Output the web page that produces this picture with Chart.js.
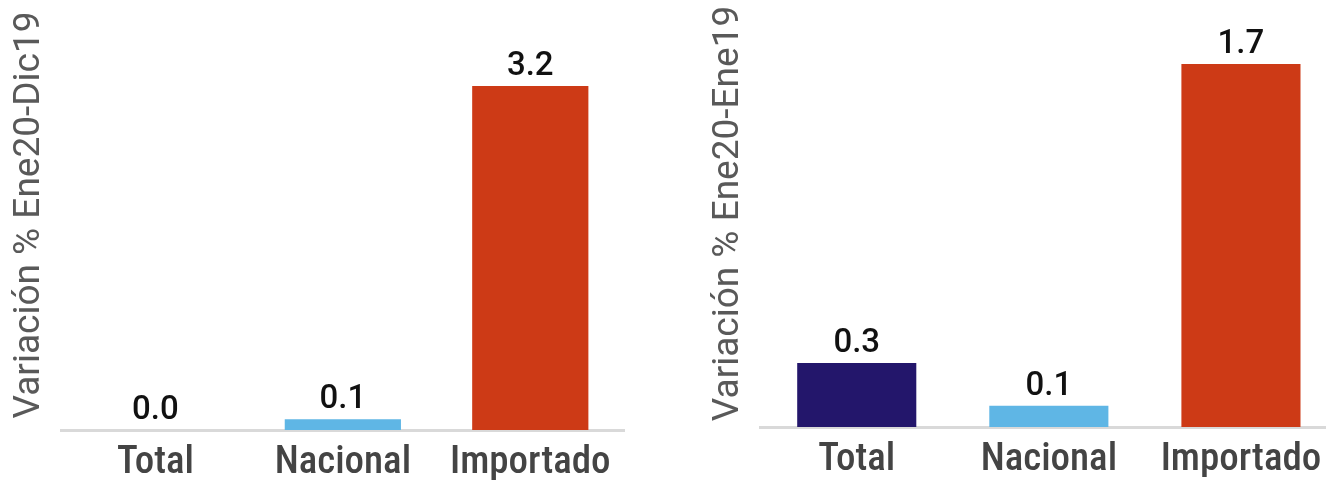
<!DOCTYPE html>
<html>
<head>
<meta charset="utf-8">
<script src="https://cdn.jsdelivr.net/npm/chart.js@4"></script>
<style>
  html, body { margin: 0; padding: 0; background: #fff; overflow: hidden; }
  body { width: 1326px; height: 480px; position: relative; }
  .box { position: absolute; top: 0; height: 480px; }
  #leftBox { left: 0; width: 640px; }
  #rightBox { left: 680px; width: 680px; }
</style>
</head>
<body>
<div class="box" id="leftBox"><canvas id="chart-dic"></canvas></div>
<div class="box" id="rightBox"><canvas id="chart-ene"></canvas></div>
<script>
const categories = ['Total', 'Nacional', 'Importado'];
const varEneDic = [0.0, 0.1, 3.2];
const varEneEne = [0.3, 0.1, 1.7];
const barColors = ['#23166b', '#5fb6e5', '#cd3a16'];

// draw value labels on top of each bar
const barLabels = {
    id: 'barLabels',
    afterDatasetsDraw(chart) {
        const ctx = chart.ctx;
        const meta = chart.getDatasetMeta(0);
        const data = chart.data.datasets[0].data;
        ctx.save();
        ctx.font = '500 33px Roboto';
        ctx.fillStyle = '#111';
        ctx.textAlign = 'center';
        ctx.textBaseline = 'alphabetic';
        meta.data.forEach((bar, i) => {
            ctx.fillText(data[i].toFixed(1), bar.x, bar.y - 11);
        });
        ctx.restore();
    }
};

const makeOptions = (title, maxY, pad) => ({
    responsive: true,
    maintainAspectRatio: false,
    animation: { duration: 0 },
    layout: { padding: pad },
    plugins: {
        legend: { display: false },
        tooltip: { enabled: false }
    },
    scales: {
        x: {
            grid: { display: false, drawTicks: false },
            border: { display: true, color: '#d9d9d9', width: 3 },
            ticks: {
                color: '#444',
                padding: 14,
                font: { family: "'Roboto Condensed', 'Liberation Sans Narrow', Roboto", size: 39, weight: 500, lineHeight: 1 }
            },
            afterFit: (scale) => { scale.height = 50; }
        },
        y: {
            min: 0,
            max: maxY,
            grid: { display: false },
            border: { display: false },
            ticks: { display: false },
            title: {
                display: true,
                text: title,
                color: '#595959',
                padding: { top: 0, bottom: 4 },
                font: { family: 'Roboto', size: 37, lineHeight: 1.1 }
            }
        }
    }
});

const makeData = (values) => ({
    labels: categories,
    datasets: [{
        data: values,
        backgroundColor: barColors,
        categoryPercentage: 1,
        barPercentage: 0.62
    }]
});

let chartDic = new Chart(document.getElementById('chart-dic'), {
    type: 'bar',
    data: makeData(varEneDic),
    options: makeOptions('Variación % Ene20-Dic19', 4, { left: 9, right: 16, top: 0, bottom: 0 }),
    plugins: [barLabels]
});

let chartEne = new Chart(document.getElementById('chart-ene'), {
    type: 'bar',
    data: makeData(varEneEne),
    options: makeOptions('Variación % Ene20-Ene19', 2, { left: 28, right: 23, top: -3, bottom: 3 }),
    plugins: [barLabels]
});
</script>
</body>
</html>
